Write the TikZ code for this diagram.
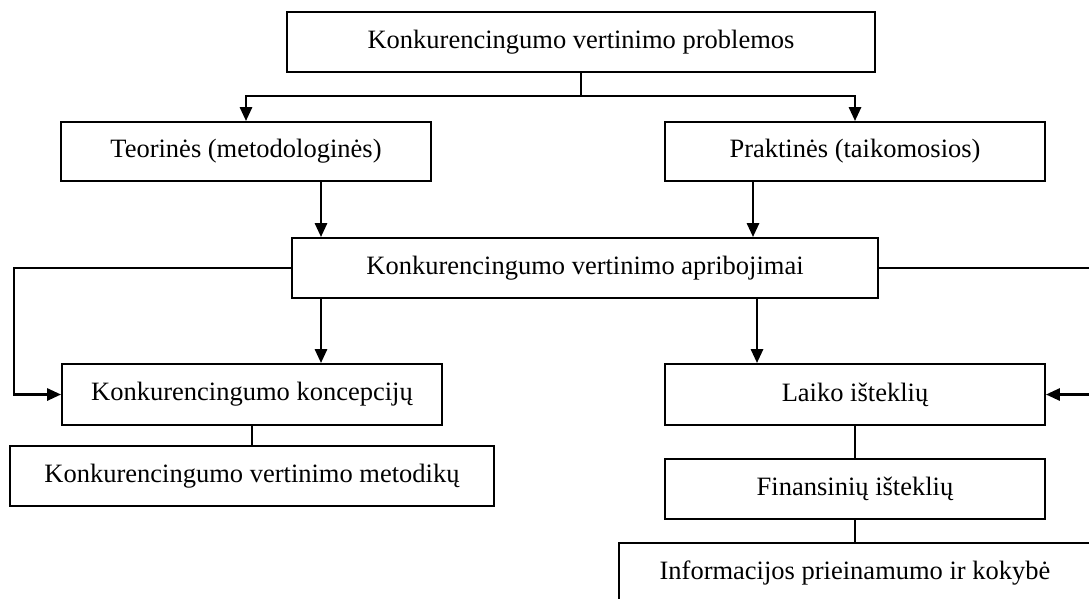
\documentclass[tikz,border=0pt]{standalone}
\usepackage{fontspec}
\setmainfont{Liberation Serif}
\usetikzlibrary{arrows.meta}
\tikzset{
  box/.style={draw, line width=1.8pt, rectangle, inner sep=0pt, align=center,
    font=\fontsize{26.5}{30}\selectfont},
  conn/.style={line width=2.8pt},
  thin/.style={line width=1.6pt},
  arr/.style={line width=2.8pt, -{Triangle[length=14pt,width=12pt]}},
}
\begin{document}
\begin{tikzpicture}[x=1pt,y=-1pt]
\useasboundingbox (0,0) rectangle (1089,598);
\node[box, minimum width=588pt, minimum height=60pt] (top) at (581,42) {Konkurencingumo vertinimo problemos};
\node[box, minimum width=370pt, minimum height=59pt] (teo) at (246,151.5) {Teorinės (metodologinės)};
\node[box, minimum width=380pt, minimum height=59pt] (prak) at (855,151.5) {Praktinės (taikomosios)};
\node[box, minimum width=586pt, minimum height=60pt] (apr) at (585,268) {Konkurencingumo vertinimo apribojimai};
\node[box, minimum width=380pt, minimum height=61pt] (konc) at (252,394.5) {Konkurencingumo koncepcijų};
\node[box, minimum width=484pt, minimum height=60pt] (met) at (252,476) {Konkurencingumo vertinimo metodikų};
\node[box, minimum width=380pt, minimum height=61pt] (laiko) at (855,394.5) {Laiko išteklių};
\node[box, minimum width=380pt, minimum height=60pt] (fin) at (855,489) {Finansinių išteklių};
\node[box, minimum width=472pt, minimum height=60pt] (inf) at (855,573) {Informacijos prieinamumo ir kokybė};
\coordinate (split) at (581,96);
\coordinate (xa) at (321,0);
\coordinate (xb) at (753,0);
\coordinate (xc) at (757,0);
\coordinate (lc1) at (14,268);
\coordinate (lc2) at (14,394.5);
\coordinate (rc1) at (1093,268);
\coordinate (rc2) at (1093,394.5);
\draw[conn] (top.south) -- (split);
\draw[arr] (split) -| (teo.north);
\draw[arr] (split) -| (prak.north);
\draw[arr] (teo.south -| xa) -- (apr.north -| xa);
\draw[arr] (prak.south -| xb) -- (apr.north -| xb);
\draw[arr] (apr.south -| xa) -- (konc.north -| xa);
\draw[arr] (apr.south -| xc) -- (laiko.north -| xc);
\draw[arr] (apr.west) -- (lc1) -- (lc2) -- (konc.west);
\draw[arr] (apr.east) -- (rc1) -- (rc2) -- (laiko.east);
\draw[thin] (konc.south) -- (met.north);
\draw[thin] (laiko.south) -- (fin.north);
\draw[thin] (fin.south) -- (inf.north);
\end{tikzpicture}
\end{document}
